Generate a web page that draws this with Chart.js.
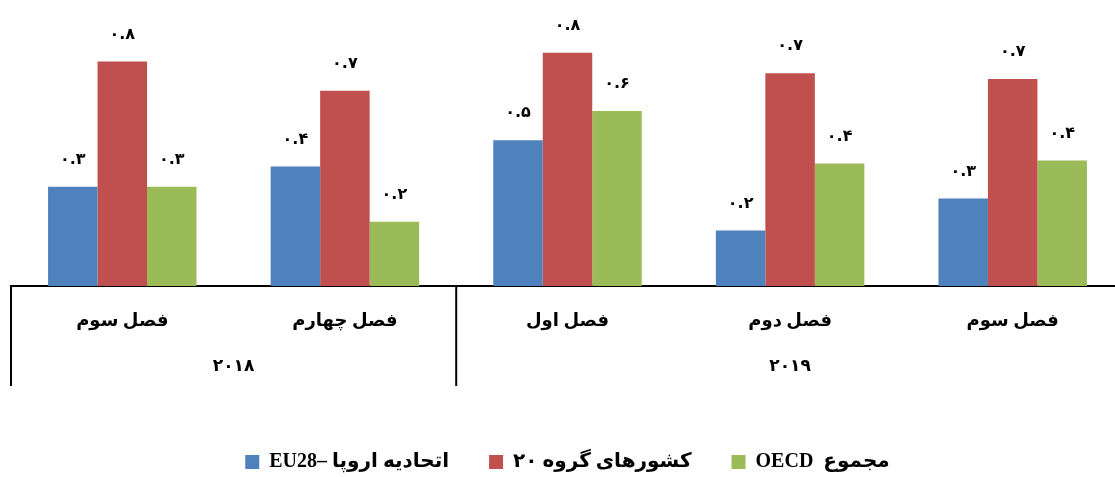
<!DOCTYPE html>
<html>
<head>
<meta charset="utf-8">
<script src="https://cdn.jsdelivr.net/npm/chart.js@4"></script>
<style>
    html, body { margin: 0; padding: 0; background: #fff; overflow: hidden; }
    #wrap { position: absolute; left: 0; top: 0; width: 1124px; height: 482px; }
</style>
</head>
<body>
<div id="wrap"><canvas id="myChart"></canvas></div>
<script>
const categories = ['فصل سوم', 'فصل چهارم', 'فصل اول', 'فصل دوم', 'فصل سوم'];
const years = ['2018', '2019'];
const yearSpans = [2, 3]; // how many quarters belong to each year
const seriesNames = ['EU28– اتحادیه اروپا', 'کشورهای گروه ۲۰', 'OECD  مجموع'];
const eu28 = [0.34, 0.41, 0.50, 0.19, 0.30];
const g20 = [0.77, 0.67, 0.80, 0.73, 0.71];
const oecd = [0.34, 0.22, 0.60, 0.42, 0.43];
const colors = ['#4F81BD', '#C0504D', '#9BBB59'];

const faFont = '"Liberation Serif", "DejaVu Sans", serif';

function toFa(str) {
    return String(str).replace(/[0-9]/g, d => '۰۱۲۳۴۵۶۷۸۹'[d]);
}

// value labels above every bar
const barLabels = {
    id: 'barLabels',
    afterDatasetsDraw(chart) {
        const ctx = chart.ctx;
        ctx.save();
        ctx.font = 'bold 16px "DejaVu Sans"';
        ctx.fillStyle = '#000';
        ctx.textAlign = 'center';
        ctx.textBaseline = 'middle';
        chart.data.datasets.forEach((ds, i) => {
            chart.getDatasetMeta(i).data.forEach((bar, j) => {
                ctx.fillText(toFa(ds.data[j].toFixed(1)), bar.x, bar.y - 27);
            });
        });
        ctx.restore();
    }
};

// year separators and year labels under the quarters
const yearGroups = {
    id: 'yearGroups',
    afterDraw(chart) {
        const ctx = chart.ctx;
        const x = chart.scales.x;
        const bottom = chart.chartArea.bottom;
        const half = (x.getPixelForTick(1) - x.getPixelForTick(0)) / 2;
        ctx.save();
        ctx.strokeStyle = '#000';
        ctx.lineWidth = 2;
        ctx.fillStyle = '#000';
        ctx.font = 'bold 17px "DejaVu Sans"';
        ctx.textAlign = 'center';
        ctx.textBaseline = 'middle';
        let start = 0;
        years.forEach((yr, k) => {
            const end = start + yearSpans[k];
            const left = x.getPixelForTick(start) - half;
            const right = x.getPixelForTick(end - 1) + half;
            ctx.beginPath();
            ctx.moveTo(left, bottom);
            ctx.lineTo(left, bottom + 100);
            ctx.stroke();
            ctx.fillText(toFa(yr), (left + right) / 2, bottom + 81);
            start = end;
        });
        ctx.restore();
    }
};

const ctx = document.getElementById('myChart');
new Chart(ctx, {
    type: 'bar',
    data: {
        labels: categories,
        datasets: [
            { label: seriesNames[0], data: eu28, backgroundColor: colors[0] },
            { label: seriesNames[1], data: g20, backgroundColor: colors[1] },
            { label: seriesNames[2], data: oecd, backgroundColor: colors[2] }
        ]
    },
    options: {
        responsive: true,
        maintainAspectRatio: false,
        animation: false,
        layout: { padding: { left: 11, right: 0, top: 9, bottom: 0 } },
        datasets: {
            bar: { categoryPercentage: 0.667, barPercentage: 1, borderWidth: 0 }
        },
        scales: {
            x: {
                grid: { display: false, drawTicks: false },
                border: { display: true, color: '#000', width: 2 },
                ticks: {
                    color: '#000',
                    padding: 25,
                    font: { family: faFont, size: 18, weight: 'bold' }
                },
                afterFit(scale) { scale.height = 126; }
            },
            y: {
                display: false,
                min: 0,
                max: 0.95
            }
        },
        plugins: {
            tooltip: { enabled: false },
            legend: {
                position: 'bottom',
                labels: {
                    color: '#000',
                    boxWidth: 14,
                    boxHeight: 14,
                    padding: 40,
                    font: { family: faFont, size: 20, weight: 'bold' }
                }
            }
        }
    },
    plugins: [barLabels, yearGroups]
});
</script>
</body>
</html>
